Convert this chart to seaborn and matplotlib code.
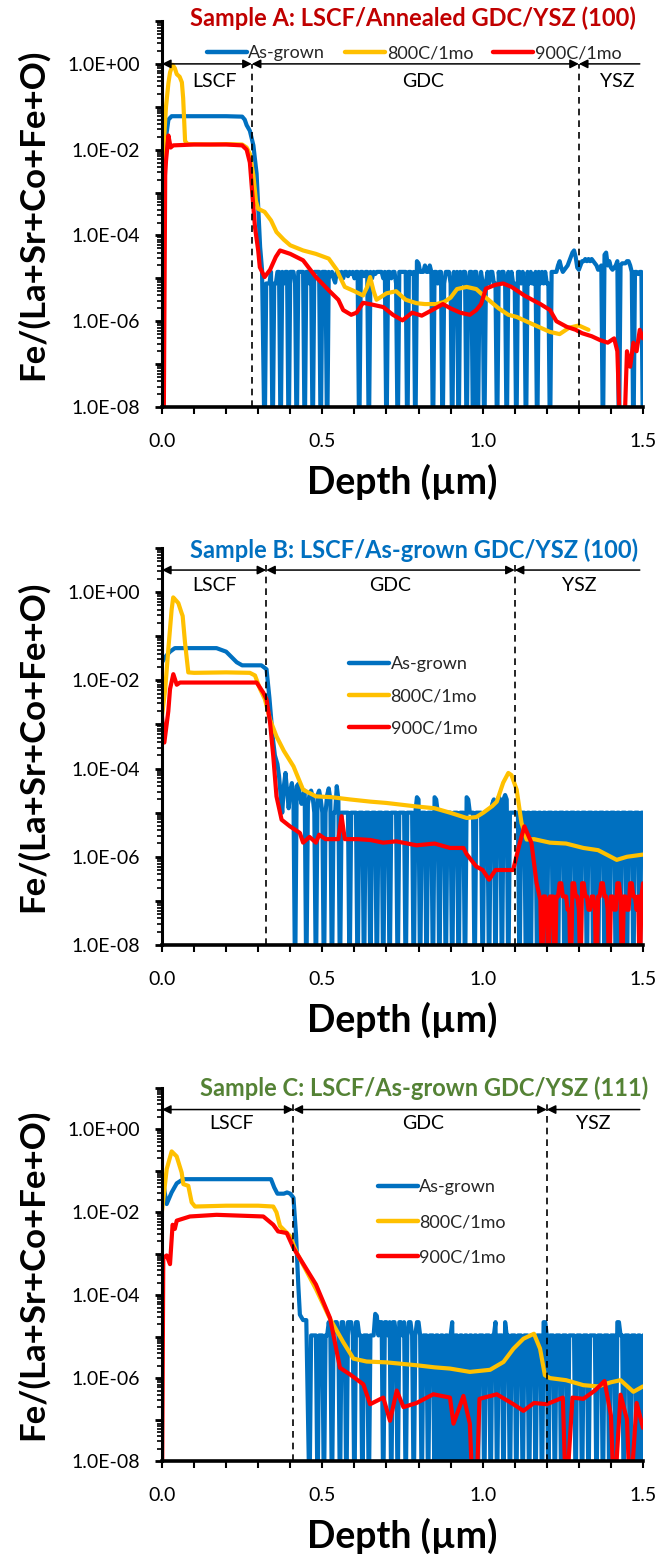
import numpy as np
import pandas as pd
import matplotlib
matplotlib.use("Agg")
import matplotlib.pyplot as plt
import seaborn as sns
from matplotlib.ticker import LogLocator, FuncFormatter, MultipleLocator, NullFormatter

sns.set_theme(style="white")
plt.rcParams["font.family"] = ["Lato", "DejaVu Sans"]

SERIES = ["As-grown", "800C/1mo", "900C/1mo"]
PALETTE = {"As-grown": "#0070C0", "800C/1mo": "#FFC000", "900C/1mo": "#FF0000"}
Z = -9        # log10 stand-in for a zero count (falls below the axis)
STEP = 0.005  # depth step of the noisy stretches
LW = 3.0

# ---- Sample A (values are log10 of Fe/(La+Sr+Co+Fe+O)) ----
a_blue_d = [0.0, 0.01, 0.02, 0.03, 0.1, 0.2, 0.25, 0.258, 0.264, 0.274, 0.285, 0.295, 0.306, 0.312]
a_blue_v = [-2.76, -1.85, -1.3, -1.22, -1.22, -1.22, -1.23, -1.3, -1.43, -1.56, -1.9, -2.56, -4.27, -4.8]
a_blue_noise_start = 0.32
a_blue_noise = [
    Z, -5.12, -5.12, -5.12, -4.85, Z, -5.12, -5.12, -4.85, -4.85, Z, -4.85, -5.12, -4.85, -4.85, Z, -4.85, -4.85, -4.85, -5.12,
    Z, -4.85, -4.85, -4.85, -4.85, Z, -4.85, -4.85, -5.12, -4.85, Z, -4.85, -4.85, -4.85, -4.85, Z, -4.85, -4.85, -4.85, Z,
    -4.85, -4.95, -4.85, -5.0, -5.1, -4.85, -4.85, -4.9, -4.85, -5.0, -4.85, -4.85, -4.95, -4.85, -4.9, -4.85, -5.0, -4.85, -4.85, Z,
    -4.85, -4.85, -4.95, -4.85, -4.85, Z, -4.85, -5.0, -4.85, -4.9, -4.85, -4.85, -4.85, -4.85, -5.0, -4.85, Z, -4.85, -4.85, -5.0,
    -4.85, -4.85, -5.12, Z, -4.85, -4.85, -4.85, -4.85, -4.85, Z, -4.85, -4.85, -4.9, -4.85, Z, -4.6, -4.65, -4.85, -4.85, -4.85,
    -4.7, -4.85, -4.85, -4.7, -4.85, Z, -4.85, -4.85, -5.12, -4.85, -4.85, Z, -5.12, -4.85, -4.85, -4.85, -5.12, Z, -4.85, -5.12,
    -4.85, Z, -4.85, -5.12, -4.85, -4.85, Z, -5.12, -4.85, -4.85, Z, -4.85, -4.85, Z, -5.12, -4.85, -5.12, Z, -5.12, -4.85,
    -5.12, -4.85, -4.85, -5.12, -5.12, Z, -4.85, -5.12, -4.85, -4.85, -5.12, Z, -4.85, -5.12, -4.85, -5.12, -5.12, Z, -4.85, -4.85,
    -5.12, -4.85, -5.12, Z, -4.85, -5.12, -4.85, -5.12, -5.12, -4.85, Z, -4.85, -5.12, -4.85, -5.12, -4.85, -5.12, -5.12, Z, -4.85,
    -4.85, -4.85, -4.85, -4.7, -4.6, -4.75, -4.85, -4.8, -4.75, -4.7, -4.6, -4.5, -4.4, -4.35, -4.5, -4.75, -4.8, -4.7, -4.6, -4.6,
    -4.55, -4.6, -4.55, -4.6, -4.55, -4.6, -4.65, -4.7, -4.8, -4.75, -4.7, Z, -4.45, -4.4, -4.7, -4.6, -4.75, -4.8, -4.75, -4.7,
    -4.6, Z, -4.7, -4.65, -4.65, -4.65, -4.6, -4.6, -4.7, -4.85, Z, -4.85, -4.85, -4.9, -4.85, -4.85, Z,
]

a_yellow_d = [0.0, 0.006, 0.0125, 0.02, 0.025, 0.033, 0.04, 0.046, 0.055, 0.062, 0.066, 0.072, 0.08,
              0.15, 0.2, 0.25, 0.264, 0.274, 0.285, 0.293, 0.30, 0.32, 0.34, 0.357, 0.38, 0.40, 0.44,
              0.48, 0.52, 0.545, 0.555, 0.57, 0.6, 0.627, 0.64, 0.649, 0.66, 0.669, 0.70, 0.73, 0.76,
              0.794, 0.82, 0.856, 0.88, 0.90, 0.92, 0.95, 0.98, 1.01, 1.05, 1.08, 1.106, 1.15, 1.18,
              1.21, 1.24, 1.27, 1.30, 1.33]
a_yellow_v = [-2.6, -1.8, -1.0, -0.45, -0.2, -0.02, -0.1, -0.24, -0.3, -0.43, -0.8, -1.8, -1.87,
              -1.88, -1.87, -1.88, -1.95, -2.1, -2.6, -3.2, -3.38, -3.45, -3.65, -3.92, -4.1, -4.23, -4.35,
              -4.43, -4.54, -4.8, -4.97, -5.2, -5.3, -5.4, -5.2, -4.97, -5.3, -5.5, -5.35, -5.3, -5.5,
              -5.58, -5.6, -5.6, -5.55, -5.45, -5.25, -5.2, -5.25, -5.45, -5.7, -5.85, -5.9, -6.05, -6.15,
              -6.25, -6.3, -6.15, -6.1, -6.2]

a_red_d = [0.0, 0.005, 0.01, 0.0125, 0.02, 0.027, 0.035, 0.1, 0.2, 0.25, 0.264, 0.274, 0.28, 0.29,
           0.30, 0.305, 0.32, 0.337, 0.355, 0.368, 0.40, 0.44, 0.48, 0.52, 0.55, 0.565, 0.59, 0.607,
           0.627, 0.66, 0.69, 0.72, 0.75, 0.78, 0.81, 0.84, 0.876, 0.90, 0.93, 0.96, 0.98, 0.995,
           1.01, 1.04, 1.064, 1.09, 1.106, 1.13, 1.157, 1.18, 1.21, 1.23, 1.262, 1.29, 1.31, 1.34,
           1.366, 1.39, 1.41, 1.42, 1.43, 1.44, 1.45, 1.46, 1.47, 1.48, 1.49, 1.50]
a_red_v = [Z, Z, -2.6, -2.26, -1.67, -1.95, -1.9, -1.88, -1.88, -1.9, -2.0, -2.3, -2.87, -3.81,
           -4.35, -4.74, -4.97, -4.8, -4.5, -4.35, -4.43, -4.58, -4.97, -5.28, -5.5, -5.74, -5.85, -5.8,
           -5.57, -5.62, -5.67, -5.85, -5.98, -5.8, -5.87, -5.75, -5.6, -5.7, -5.8, -5.85, -5.74, -5.6,
           -5.24, -5.15, -5.12, -5.2, -5.28, -5.4, -5.51, -5.6, -5.74, -6.0, -6.13, -6.2, -6.28, -6.35,
           -6.44, -6.5, -6.4, -6.7, Z, Z, -6.7, -7.06, -6.5, -6.7, -6.2, -6.4]

# ---- Sample B ----
b_blue_d = [0.0, 0.0125, 0.025, 0.04, 0.17, 0.2, 0.233, 0.25, 0.31, 0.326, 0.335, 0.345, 0.352]
b_blue_v = [-1.59, -1.45, -1.35, -1.27, -1.27, -1.35, -1.59, -1.66, -1.66, -1.75, -2.4, -3.27, -3.7]
b_blue_noise_start = 0.36
b_blue_noise = [
    -3.9, -4.17, -4.6, -5.0, -4.4, -4.1, -4.5, -4.9, -4.5, -4.33, -4.7, Z, -4.4, -4.35, -4.6, -4.8, -4.6, -4.5, Z, -4.8,
    -4.6, -4.5, -4.65, -5.0, Z, -4.6, -4.5, -4.7, -5.0, Z, -5.0, -4.6, -4.45, -4.7, Z, -5.0, -5.0, -4.4, -4.7, Z,
    -5.0, -5.0, -5.0, -5.0, -5.0, Z, -5.0, -5.0, -5.0, -5.0, Z, -5.0, -5.0, -5.0, Z, -5.0, -5.0, -5.0, Z, -5.0,
    -5.0, -5.0, Z, -5.0, -5.0, -5.0, Z, -5.0, -5.0, -5.0, Z, -5.0, -5.0, -5.0, -5.0, Z, -5.0, -5.0, -5.0, -5.0,
    Z, -5.0, -5.0, -5.0, -5.0, Z, -5.0, -4.65, -4.7, Z, -5.0, -5.0, -5.0, Z, -5.0, -5.0, -5.0, Z, -4.65, -4.7,
    -5.0, Z, -5.0, -5.0, -5.0, Z, -5.0, -5.0, -5.0, Z, -5.0, -5.0, -5.0, Z, -5.0, -5.0, -5.0, Z, -4.65, -4.7,
    -5.0, -5.0, -5.0, Z, -5.0, -5.0, -5.0, -5.0, Z, -5.0, -5.0, -5.0, Z, -5.0, -4.8, -4.7, Z, -4.75, -4.65, -4.7,
    Z, -4.7, -4.6, -4.7, Z, -5.0, -5.0, -5.0, -5.0, -5.0, -5.0, Z, -5.0, -5.0, -5.0, Z, -5.0, -5.0, Z, -5.0,
    -5.0, -5.0, Z, -5.0, -5.0, Z, -5.0, -5.0, Z, -5.0, -5.0, -5.0, Z, -5.0, -5.0, Z, -5.0, -5.0, -5.0, Z,
    -5.0, -5.0, Z, -5.0, -5.0, -5.0, Z, -5.0, -5.0, Z, -5.0, -5.0, -5.0, Z, -5.0, -5.0, -5.0, Z, -5.0, -5.0,
    Z, -5.0, -5.0, -5.0, Z, -5.0, -5.0, Z, -5.0, -5.0, -5.0, Z, -5.0, -5.0, Z, -5.0, -5.0, -5.0, Z, -5.0,
    -5.0, -5.0, Z, -5.0, -5.0, -5.0, Z, -5.0, -5.0,
]

b_yellow_d = [0.0, 0.01, 0.02, 0.03, 0.035, 0.045, 0.051, 0.06, 0.0644, 0.0717, 0.082, 0.1, 0.2,
              0.274, 0.29, 0.306, 0.321, 0.337, 0.357, 0.38, 0.41, 0.44, 0.48, 0.53, 0.586, 0.65, 0.7,
              0.794, 0.85, 0.898, 0.95, 0.98, 1.002, 1.03, 1.044, 1.064, 1.08, 1.09, 1.106, 1.121,
              1.137, 1.16, 1.21, 1.26, 1.314, 1.36, 1.418, 1.45, 1.5]
b_yellow_v = [-2.81, -2.2, -1.27, -0.4, -0.12, -0.2, -0.25, -0.45, -0.54, -1.14, -1.82, -1.83, -1.82,
              -1.83, -1.89, -2.2, -2.43, -2.89, -3.27, -3.6, -3.95, -4.48, -4.63, -4.65, -4.7, -4.75, -4.78,
              -4.86, -4.9, -5.0, -5.12, -5.1, -5.0, -4.85, -4.75, -4.32, -4.1, -4.15, -4.48, -5.23,
              -5.61, -5.6, -5.68, -5.7, -5.8, -5.85, -6.07, -6.0, -5.95]

b_red_d = [0.0, 0.0073, 0.0197, 0.025, 0.0353, 0.046, 0.056, 0.1, 0.2, 0.295, 0.316, 0.326, 0.337,
           0.347, 0.357, 0.373, 0.399, 0.43, 0.44, 0.46, 0.48, 0.49, 0.51, 0.55, 0.56, 0.57, 0.61,
           0.65, 0.69, 0.73, 0.794, 0.85, 0.898, 0.94, 0.95, 0.98, 1.0, 1.02, 1.04, 1.064, 1.095,
           1.116, 1.13, 1.152, 1.168]
b_red_v = [-2.81, -3.41, -2.7, -2.2, -1.86, -2.1, -2.05, -2.05, -2.05, -2.05, -2.28, -2.43, -2.96,
           -3.72, -4.63, -5.16, -5.31, -5.46, -5.68, -5.55, -5.68, -5.5, -5.6, -5.6, -5.08, -5.6, -5.6,
           -5.62, -5.68, -5.65, -5.74, -5.7, -5.8, -5.8, -5.94, -6.22, -6.3, -6.52, -6.3, -6.3, -6.3,
           -5.68, -5.31, -5.68, -6.59]
b_red_noise_start = 1.18
b_red_noise = [
    -6.98, Z, -6.9, -6.9, -7.0, Z, -6.9, -6.9, -6.9, Z, -6.9, -6.9, -6.6, -6.6, -6.9, -6.9, -6.9, -7.2, -7.2, Z,
    -6.6, -6.6, -6.9, -6.9, -7.2, Z, -6.6, -6.6, -6.9, -6.9, -7.2, -7.2, -6.9, -6.9, -7.2, Z, -6.9, -6.9, -6.6, -6.6,
    -6.9, -6.9, -7.2, Z, -6.9, -6.9, -7.2, -7.2, -6.6, -6.6, -6.9, Z, -6.9, -6.9, -7.2, -7.2, -6.6, -6.6, -6.9, -6.9,
    -7.2, -6.9, Z, -6.9, -6.6,
]

# ---- Sample C ----
c_blue_d = [0.0, 0.008, 0.0146, 0.03, 0.046, 0.066, 0.34, 0.35, 0.36, 0.38, 0.39, 0.40, 0.41,
            0.418, 0.425, 0.43, 0.44, 0.45]
c_blue_v = [-1.05, -1.5, -1.8, -1.52, -1.3, -1.2, -1.2, -1.4, -1.55, -1.55, -1.52, -1.55, -1.65,
            -2.54, -3.75, -4.47, -4.6, -4.6]
c_blue_noise_start = 0.46
c_blue_noise = [
    Z, -4.97, -4.97, -4.97, -4.97, Z, -4.97, -4.97, -4.97, Z, -4.97, -4.97, -4.65, -4.97, Z, -4.97, -4.65, -4.65, -4.97, Z,
    -4.65, -4.65, -4.97, Z, -4.65, -4.65, -4.65, -4.97, Z, -4.65, -4.65, -4.97, -4.97, Z, -4.97, -4.97, -4.97, Z, -4.97, -4.97,
    -4.97, -4.45, -4.5, -4.97, -4.65, -4.65, Z, -4.65, -4.65, -4.97, -4.65, Z, -4.65, -4.65, -4.97, Z, -4.65, -4.65, -4.97, -4.65,
    Z, -4.97, -4.65, -4.65, -4.97, Z, -4.97, -4.65, -4.65, -4.97, Z, -4.97, -4.97, -4.97, Z, -4.97, -4.97, -4.97, Z, -4.97,
    -4.97, Z, -4.97, -4.97, Z, -4.97, -4.97, Z, -4.97, -4.65, Z, -4.97, -4.97, Z, -4.97, -4.97, Z, -4.97, -4.97, Z,
    -4.97, -4.97, Z, -4.97, -4.97, Z, -4.97, -4.97, -4.97, Z, -4.97, -4.97, -4.97, Z, -4.97, -4.97, -4.65, Z, -4.97, -4.97,
    -4.97, Z, -4.65, -4.97, -4.97, Z, -4.97, -4.97, -4.97, Z, -4.97, -4.97, -4.97, Z, -4.97, -4.97, -4.97, Z, -4.97, -4.97,
    -4.97, Z, -4.97, -4.97, -4.97, Z, -4.65, -4.65, -4.97, Z, -4.97, -4.97, -4.97, Z, -4.97, -4.97, -4.97, Z, -4.97, -4.97,
    -4.97, Z, -4.97, -4.97, -4.97, -4.97, Z, -4.97, -4.97, -4.97, Z, -4.97, -4.97, -4.97, Z, -4.97, -4.97, -4.97, -4.97, Z,
    -4.97, -4.97, -4.97, Z, -4.97, -4.97, -4.97, Z, -4.97, -4.97, -4.97, Z, -4.65, -4.65, -4.97, -4.97, Z, -4.97, -4.97, -4.97,
    Z, -4.97, -4.97, -4.97, Z, -4.97, -4.97, Z, -4.97,
]

c_yellow_d = [0.0, 0.0146, 0.0301, 0.0457, 0.0613, 0.0665, 0.082, 0.0925, 0.103, 0.2, 0.3, 0.347,
              0.357, 0.368, 0.399, 0.42, 0.48, 0.524, 0.565, 0.597, 0.638, 0.7, 0.794, 0.85, 0.898,
              0.96, 1.023, 1.065, 1.096, 1.127, 1.16, 1.179, 1.194, 1.21, 1.26, 1.314, 1.36, 1.4,
              1.43, 1.47, 1.5]
c_yellow_v = [-1.97, -0.96, -0.53, -0.65, -1.04, -1.32, -1.36, -1.76, -1.86, -1.84, -1.84, -1.86,
              -2.0, -2.33, -2.57, -2.97, -3.85, -4.57, -5.13, -5.53, -5.6, -5.62, -5.69, -5.74, -5.77,
              -5.85, -5.8, -5.61, -5.29, -5.05, -4.93, -5.29, -5.93, -6.0, -6.05, -6.17, -6.2, -6.1,
              -6.05, -6.33, -6.2]

c_red_d = [0.0, 0.004, 0.0146, 0.025, 0.033, 0.04, 0.046, 0.087, 0.17, 0.316, 0.347, 0.362, 0.389,
           0.41, 0.48, 0.524, 0.555, 0.586, 0.628, 0.649, 0.69, 0.711, 0.732, 0.753, 0.794, 0.846,
           0.898, 0.909, 0.94, 0.96, 0.97, 0.98, 0.99, 1.044, 1.096, 1.127, 1.16, 1.2, 1.25, 1.26,
           1.28, 1.314, 1.35, 1.38, 1.40, 1.41, 1.43, 1.45, 1.46, 1.48, 1.50]
c_red_v = [Z, -3.1, -3.04, -3.25, -2.3, -2.4, -2.2, -2.1, -2.06, -2.1, -2.3, -2.46, -2.5,
           -2.86, -3.74, -4.55, -5.75, -5.91, -6.15, -6.63, -6.47, -7.03, -6.3, -6.7, -6.6, -6.39,
           -6.47, -7.1, -6.43, -7.1, Z, Z, -6.5, -6.39, -6.63, -6.79, -6.6, -6.63, -6.47, Z,
           -6.47, -6.5, -6.3, -6.07, -6.9, Z, -6.4, -7.0, Z, -6.6, -7.2]


def with_noise(depths, values, start, noise):
    nd = list(np.round(start + STEP * np.arange(len(noise)), 4))
    return list(depths) + nd, list(values) + list(noise)


def panel_frame(parts):
    rows = []
    for name, depths, logs in parts:
        assert len(depths) == len(logs), name
        for d, v in zip(depths, logs):
            rows.append((name, d, 10.0 ** v))
    return pd.DataFrame(rows, columns=["series", "depth", "ratio"])


df_a = panel_frame([
    ("As-grown", *with_noise(a_blue_d, a_blue_v, a_blue_noise_start, a_blue_noise)),
    ("800C/1mo", a_yellow_d, a_yellow_v),
    ("900C/1mo", a_red_d, a_red_v),
])
df_b = panel_frame([
    ("As-grown", *with_noise(b_blue_d, b_blue_v, b_blue_noise_start, b_blue_noise)),
    ("800C/1mo", b_yellow_d, b_yellow_v),
    ("900C/1mo", *with_noise(b_red_d, b_red_v, b_red_noise_start, b_red_noise)),
])
df_c = panel_frame([
    ("As-grown", *with_noise(c_blue_d, c_blue_v, c_blue_noise_start, c_blue_noise)),
    ("800C/1mo", c_yellow_d, c_yellow_v),
    ("900C/1mo", c_red_d, c_red_v),
])

PANELS = [
    dict(df=df_a, title="Sample A: LSCF/Annealed GDC/YSZ (100)", color="#C00000",
         rect=[162, 21, 643, 407], title_xy=(636, 18), bounds=[0.28, 1.30],
         arrow_y=10 ** 0.0, dash_top=10 ** 0.0, label_y=10 ** -0.4,
         label_x=[0.165, 0.815, 1.42],
         legend=dict(ncol=3, loc="center", bbox_to_anchor=(0.524, 0.917), columnspacing=1.1)),
    dict(df=df_b, title="Sample B: LSCF/As-grown GDC/YSZ (100)", color="#0070C0",
         rect=[162, 548, 643, 945], title_xy=(638, 550), bounds=[0.325, 1.10],
         arrow_y=10 ** 0.5, dash_top=10 ** 0.7, label_y=10 ** 0.14,
         label_x=[0.165, 0.71, 1.3],
         legend=dict(ncol=1, loc="upper left", bbox_to_anchor=(0.37, 0.75), labelspacing=0.9)),
    dict(df=df_c, title="Sample C: LSCF/As-grown GDC/YSZ (111)", color="#548235",
         rect=[162, 1088, 643, 1461], title_xy=(648, 1088), bounds=[0.41, 1.20],
         arrow_y=10 ** 0.48, dash_top=10 ** 0.65, label_y=10 ** 0.15,
         label_x=[0.217, 0.815, 1.345],
         legend=dict(ncol=1, loc="upper left", bbox_to_anchor=(0.43, 0.78), labelspacing=1.05)),
]

W, H = 659, 1554
fig = plt.figure(figsize=(W / 100, H / 100), dpi=100)

for p in PANELS:
    x0, y0, x1, y1 = p["rect"]
    ax = fig.add_axes([x0 / W, 1 - y1 / H, (x1 - x0) / W, (y1 - y0) / H])
    sns.lineplot(data=p["df"], x="depth", y="ratio", hue="series", hue_order=SERIES,
                 palette=PALETTE, lw=LW, estimator=None, sort=False, ax=ax)
    ax.set_yscale("log")
    ax.set_ylim(1e-8, 10)
    ax.set_xlim(0, 1.5)

    ax.yaxis.set_major_locator(LogLocator(base=10, numticks=20))
    ax.yaxis.set_minor_locator(LogLocator(base=10, subs=np.arange(2, 10), numticks=20))
    ax.yaxis.set_minor_formatter(NullFormatter())
    ax.yaxis.set_major_formatter(FuncFormatter(
        lambda v, pos: f"{v:.1E}" if round(np.log10(v)) % 2 == 0 and v < 5 else ""))
    ax.xaxis.set_major_locator(MultipleLocator(0.5))
    ax.xaxis.set_minor_locator(MultipleLocator(0.1))
    ax.xaxis.set_major_formatter(FuncFormatter(lambda v, pos: f"{v:.1f}"))

    ax.tick_params(axis="x", which="both", bottom=True, direction="out", length=5, width=1.5,
                   color="black", labelsize=14, pad=14, labelcolor="black")
    ax.tick_params(axis="y", which="major", left=True, direction="out", length=5, width=2,
                   color="black", labelsize=14, pad=11, labelcolor="black")
    ax.tick_params(axis="y", which="minor", left=True, direction="out", length=3.5, width=1.2,
                   color="black")
    for side in ["top", "right"]:
        ax.spines[side].set_visible(False)
    ax.spines["left"].set_linewidth(2.2)
    ax.spines["bottom"].set_linewidth(2.6)
    ax.spines["left"].set_color("black")
    ax.spines["bottom"].set_color("black")

    ax.set_xlabel("Depth (\u00b5m)", fontsize=27, fontweight="bold", color="black")
    ax.set_ylabel("Fe/(La+Sr+Co+Fe+O)", fontsize=25, fontweight="bold", color="black")
    ax.xaxis.set_label_coords(0.5, -57 / (y1 - y0))
    ax.yaxis.set_label_coords(-0.235, 0.5)

    # layer boundaries and extents
    b1, b2 = p["bounds"]
    ax.vlines([b1, b2], 1e-8, p["dash_top"], colors="black", linestyles=(0, (4, 3)), lw=1.2)
    ay = p["arrow_y"]
    arrow = dict(color="black", lw=1.1, shrinkA=0, shrinkB=0, mutation_scale=13)
    ax.annotate("", xy=(b1, ay), xytext=(0, ay), arrowprops=dict(arrowstyle="<|-|>", **arrow))
    ax.annotate("", xy=(b2, ay), xytext=(b1, ay), arrowprops=dict(arrowstyle="<|-|>", **arrow))
    ax.annotate("", xy=(1.49, ay), xytext=(b2, ay), arrowprops=dict(arrowstyle="<|-", **arrow))
    for lx, name in zip(p["label_x"], ["LSCF", "GDC", "YSZ"]):
        ax.text(lx, p["label_y"], name, ha="center", va="center", fontsize=14, color="black")

    leg = ax.get_legend()
    handles = leg.legend_handles
    labels = [t.get_text() for t in leg.get_texts()]
    for h in handles:
        h.set_linewidth(3.2)
    ax.legend(handles, labels, frameon=False, fontsize=13, handlelength=2.2,
              handletextpad=0.1, borderpad=0, **p["legend"])

    tx, ty = p["title_xy"]
    fig.text(tx / W, 1 - ty / H, p["title"], ha="right", va="center", fontsize=17,
             fontweight="bold", color=p["color"])

fig.savefig("out.png", dpi=100)
